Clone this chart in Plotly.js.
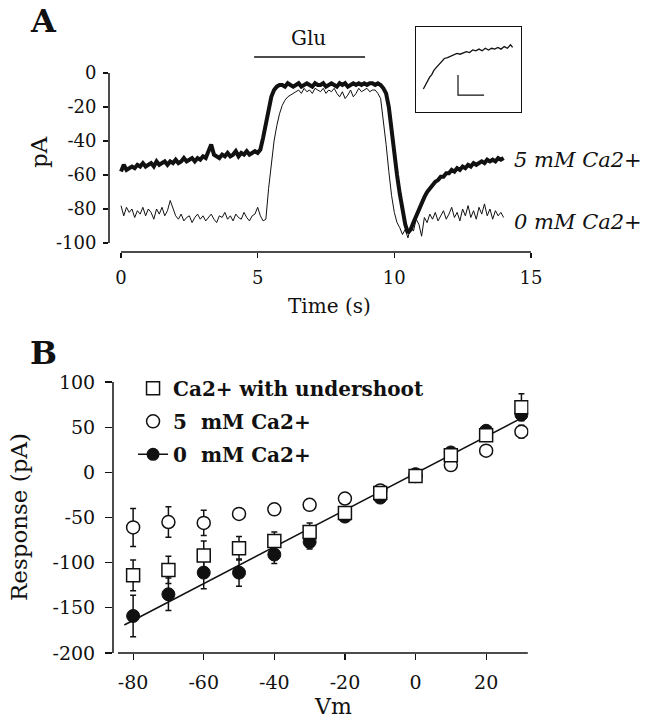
<!DOCTYPE html>
<html>
<head>
<meta charset="utf-8">
<script src="https://cdn.plot.ly/plotly-3.0.1.min.js"></script>
<style>html,body{margin:0;padding:0;background:#fff}#chart{width:649px;height:720px}</style>
</head>
<body>
<div id="chart"></div>
<script>
// ---------- Panel A: current traces (sampled every 0.1 s from t = 0 s) ----------
const traceStart = 0;      // s
const traceStep = 0.1;     // s
const trace0mM = [
  -78,-84,-79,-82,-80,-85,-81,-83,-79,-84,-80,-82,-86,-80,-83,-79,-84,-81,-75,-80,
  -84,-86,-83,-87,-85,-84,-88,-85,-83,-86,-84,-87,-85,-83,-86,-88,-84,-85,-82,-86,
  -84,-87,-83,-85,-86,-82,-85,-87,-84,-83,-79,-84,-87,
  -86,-68,-52,-40,-31,-24,-19,-16,-14,-13,-12,
  -11,-10,-12,-9,-11,-10,-12,-9,-10,-11,-9,-12,-10,-11,-9,-12,-14,-11,-15,-13,
  -10,-14,-12,-9,-11,-10,-9,-11,-10,-10,
  -12,-15,-28,-42,-58,-72,-82,-88,-91,-95,-92,-97,-90,-93,-86,-89,
  -96,-85,-88,-83,-86,-82,-87,-84,-81,-86,-83,-79,-85,-82,-87,-80,-84,-78,-85,-81,
  -86,-79,-83,-77,-84,-80,-86,-81,-84,-82,-85
];
const trace5mM = [
  -58,-54,-57,-56,-55,-56,-54,-55,-53,-55,-54,-53,-55,-52,-54,-53,-52,-54,-52,-53,
  -51,-53,-52,-50,-52,-51,-50,-52,-50,-51,-49,-50,-46,-42,-48,-49,-50,-48,-49,-47,
  -49,-48,-46,-49,-47,-48,-46,-48,-47,-46,-47,
  -45,-38,-29,-21,-14,-10,-8,-7,
  -7,-8,-6,-7,-8,-7,-6,-8,-7,-6,-7,-8,-6,-7,-7,-6,-8,-7,-6,-7,
  -8,-6,-7,-6,-8,-7,-6,-7,-6,-7,-6,-7,-6,-6,-7,-6,
  -7,-9,-12,-20,-35,-47,-60,-71,-82,-89,-94,-92,-88,-84,-80,-76,-73,-70,-68,-66,
  -64,-63,-61,-61,-59,-59,-57,-58,-56,-57,-55,-56,-54,-55,-53,-54,-53,-52,-53,-51,
  -52,-51,-52,-50,-51,-50
];
const traceLabels = ['5 mM Ca2+', '0 mM Ca2+'];
const gluPeriod = [4.87, 8.93];   // s, glutamate application bar
const timeTicks = [0, 5, 10, 15];
const currentTicks = [0, -20, -40, -60, -80, -100];

// inset (normalised units)
const insetX = [0.07,0.09,0.11,0.13,0.15,0.17,0.19,0.21,0.23,0.25,0.27,0.30,0.33,0.36,0.39,0.42,0.45,
                0.48,0.51,0.54,0.57,0.60,0.63,0.66,0.69,0.72,0.75,0.78,0.81,0.84,0.87,0.90,0.92];
const insetY = [0.27,0.32,0.36,0.41,0.44,0.49,0.52,0.55,0.58,0.60,0.63,0.64,0.66,0.67,0.69,0.68,0.70,
                0.71,0.70,0.73,0.72,0.74,0.72,0.75,0.73,0.75,0.74,0.76,0.74,0.77,0.75,0.79,0.76];
const scaleBarX = [0.40, 0.40, 0.648];
const scaleBarY = [0.435, 0.20, 0.20];

// ---------- Panel B: I-V relation ----------
const vm = [-80,-70,-60,-50,-40,-30,-20,-10,0,10,20,30];
const resp0mM     = [-159,-135,-111,-111,-91,-77,-49,-28,-2,22,46,64];
const err0mM      = [23,18,18,15,10,8,5,4,3,4,5,6];
const resp5mM     = [-61,-55,-56,-46,-41,-36,-29,-20,-4,8,24,45];
const err5mM      = [21,17,14,6,5,3,3,3,3,3,3,7];
const respUnder   = [-114,-108,-92,-84,-76,-66,-45,-23,-4,19,41,72];
const errUnder    = [17,15,16,13,10,10,5,4,3,4,5,15];
const fitVm = [-82.5, 30];
const fitResp = [-169, 60];
const legendNames = ['Ca2+ with undershoot', '5\u00a0 mM Ca2+', '0\u00a0 mM Ca2+'];
const vmTicks = [-80, -60, -40, -20, 0, 20];
const respTicks = [100, 50, 0, -50, -100, -150, -200];

const FONT = 'DejaVu Serif';
const K = '#111';
const txt = v => String(v);   // hyphen-minus labels as in the original

const traces = [
  {type:'scatter', mode:'lines', x0:traceStart, dx:traceStep, y:trace0mM, xaxis:'x', yaxis:'y',
   line:{color:K, width:1}, showlegend:false, name:traceLabels[1]},
  {type:'scatter', mode:'lines', x0:traceStart, dx:traceStep, y:trace5mM, xaxis:'x', yaxis:'y',
   line:{color:K, width:4}, showlegend:false, name:traceLabels[0]},
  {type:'scatter', mode:'lines', x:insetX, y:insetY, xaxis:'x3', yaxis:'y3',
   line:{color:K, width:1.3}, showlegend:false},
  {type:'scatter', mode:'lines', x:scaleBarX, y:scaleBarY, xaxis:'x3', yaxis:'y3',
   line:{color:K, width:1.2}, showlegend:false},
  // panel B
  {type:'scatter', mode:'lines', x:fitVm, y:fitResp, xaxis:'x2', yaxis:'y2',
   line:{color:K, width:1.5}, showlegend:false},
  {type:'scatter', mode:'markers', x:vm, y:resp0mM, xaxis:'x2', yaxis:'y2',
   marker:{symbol:'circle', size:13, color:K, line:{color:K, width:1}},
   error_y:{type:'data', array:err0mM, color:K, thickness:1.5, width:3},
   showlegend:false},
  {type:'scatter', mode:'markers', x:vm, y:resp5mM, xaxis:'x2', yaxis:'y2',
   marker:{symbol:'circle', size:13, color:'white', line:{color:K, width:1.5}},
   error_y:{type:'data', array:err5mM, color:K, thickness:1.5, width:3},
   name:legendNames[1], legendrank:2, legendgroup:'b'},
  {type:'scatter', mode:'markers', x:vm, y:respUnder, xaxis:'x2', yaxis:'y2',
   marker:{symbol:'square', size:13, color:'white', line:{color:K, width:1.5}},
   error_y:{type:'data', array:errUnder, color:K, thickness:1.5, width:3},
   name:legendNames[0], legendrank:1, legendgroup:'a'},
  // legend entry for 0 mM (filled circle on the fitted line)
  {type:'scatter', mode:'lines+markers', x:[null], y:[null], xaxis:'x2', yaxis:'y2',
   line:{color:K, width:1.5}, marker:{symbol:'circle', size:13, color:K},
   name:legendNames[2], legendrank:3, legendgroup:'c'}
];

const axBase = {showgrid:false, zeroline:false, showline:false, ticks:'outside',
  tickcolor:K, tickwidth:1.2, fixedrange:true};

const ann = (o) => Object.assign({xref:'paper', yref:'paper', showarrow:false,
  xanchor:'center', yanchor:'middle'}, o);

const layout = {
  width:649, height:720, margin:{l:0,r:0,t:0,b:0},
  paper_bgcolor:'white', plot_bgcolor:'rgba(0,0,0,0)',
  font:{family:FONT, color:K, size:18},
  xaxis:Object.assign({}, axBase, {domain:[0.16795,0.82650], range:[-0.44,15.2], anchor:'y',
    tickvals:timeTicks, ticktext:timeTicks.map(txt), ticklen:5, tickfont:{size:18}, ticklabelstandoff:4}),
  yaxis:Object.assign({}, axBase, {domain:[0.65,0.97222], range:[-105.3,31.2], anchor:'x',
    tickvals:currentTicks, ticktext:currentTicks.map(txt), ticklen:5, tickfont:{size:18}, ticklabelstandoff:3}),
  xaxis2:Object.assign({}, axBase, {domain:[0.17411,0.81433], range:[-85.7,32], anchor:'y2',
    tickvals:vmTicks, ticktext:vmTicks.map(txt), ticklen:6, tickfont:{size:19}, ticklabelstandoff:6}),
  yaxis2:Object.assign({}, axBase, {domain:[0.09306,0.50708], range:[-200,130], anchor:'x2',
    tickvals:respTicks, ticktext:respTicks.map(txt), ticklen:7, tickfont:{size:19}, ticklabelstandoff:6}),
  xaxis3:{domain:[0.641,0.8028], range:[0,1], anchor:'y3', showgrid:false, zeroline:false,
    showticklabels:false, ticks:'', showline:true, mirror:true, linecolor:K, linewidth:1, fixedrange:true},
  yaxis3:{domain:[0.8444,0.9625], range:[0,1], anchor:'x3', showgrid:false, zeroline:false,
    showticklabels:false, ticks:'', showline:true, mirror:true, linecolor:K, linewidth:1, fixedrange:true},
  showlegend:true,
  legend:{x:0.205, y:0.4877, xanchor:'left', yanchor:'top', bgcolor:'rgba(0,0,0,0)',
    font:{family:FONT, size:20, weight:'bold', color:K}, itemsizing:'trace',
    traceorder:'grouped', tracegroupgap:4, itemwidth:30},
  shapes:[
    {type:'line', xref:'x', yref:'paper', x0:0, x1:15, y0:0.65, y1:0.65, line:{color:K, width:1.5}},
    {type:'line', xref:'paper', yref:'y', x0:0.16795, x1:0.16795, y0:-100, y1:0, line:{color:K, width:1.5}},
    {type:'line', xref:'x2', yref:'paper', x0:-84.3, x1:31.8, y0:0.09306, y1:0.09306, line:{color:K, width:1.5}},
    {type:'line', xref:'paper', yref:'y2', x0:0.17411, x1:0.17411, y0:-200, y1:100, line:{color:K, width:1.5}},
    {type:'line', xref:'x', yref:'y', x0:gluPeriod[0], x1:gluPeriod[1], y0:9.4, y1:9.4, line:{color:K, width:1.5}}
  ],
  annotations:[
    ann({text:'<b>A</b>', x:0.0663, y:0.9715, font:{size:32}}),
    ann({text:'<b>B</b>', x:0.0663, y:0.5097, font:{size:32}}),
    ann({text:'Glu', x:0.4746, y:0.9472, font:{size:20}}),
    ann({text:'pA', x:0.0601, y:0.7889, textangle:-90, font:{size:23}}),
    ann({text:'Time (s)', x:0.507, y:0.575, font:{size:20}}),
    ann({text:'<i>'+traceLabels[0]+'</i>', x:0.789, y:0.7778, xanchor:'left', font:{size:21}}),
    ann({text:'<i>'+traceLabels[1]+'</i>', x:0.789, y:0.6917, xanchor:'left', font:{size:21}}),
    ann({text:'Response (pA)', x:0.0293, y:0.2819, textangle:-90, font:{size:23}}),
    ann({text:'Vm', x:0.5131, y:0.0194, font:{size:22}})
  ]
};

Plotly.newPlot('chart', traces, layout, {displayModeBar:false, staticPlot:true});
</script>
</body>
</html>
